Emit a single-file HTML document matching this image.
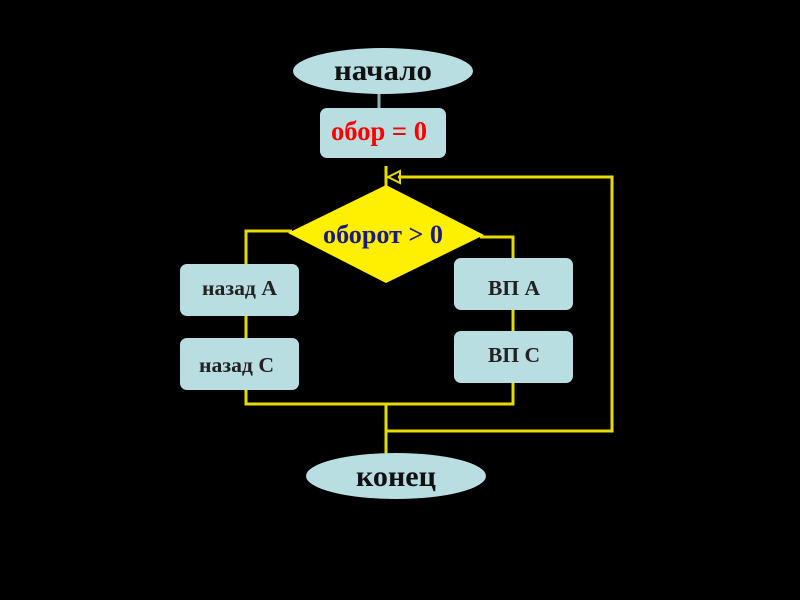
<!DOCTYPE html>
<html><head><meta charset="utf-8"><style>
html,body{margin:0;padding:0;background:#000;}
svg{display:block;}
text{font-family:"Liberation Serif","Times New Roman",serif;font-weight:bold;}
</style></head><body>
<svg width="800" height="600" viewBox="0 0 800 600" xmlns="http://www.w3.org/2000/svg">
<rect width="800" height="600" fill="#000"/>
<line x1="379" y1="92" x2="379" y2="110" stroke="#8fb3b5" stroke-width="3"/>
<g stroke="#e6dc00" stroke-width="3" fill="none">
<line x1="386" y1="166" x2="386" y2="190"/>
<polyline points="398,177 612,177 612,431 386,431"/>
<polyline points="292,231 246,231 246,266"/>
<line x1="246" y1="314" x2="246" y2="340"/>
<polyline points="480,237 513,237 513,260"/>
<line x1="513" y1="308" x2="513" y2="333"/>
<polyline points="246,388 246,404 513,404 513,381"/>
<line x1="386" y1="404" x2="386" y2="456"/>
</g>
<polygon points="388,177 400,171 400,183" fill="none" stroke="#e6dc00" stroke-width="2"/>
<ellipse cx="383" cy="71" rx="90" ry="23" fill="#b9dee2"/>
<text x="334" y="80" font-size="30" textLength="98" lengthAdjust="spacingAndGlyphs" fill="#111">начало</text>
<rect x="320" y="108" width="126" height="50" rx="7" fill="#b9dee2"/>
<text x="331" y="140" font-size="27" textLength="96" lengthAdjust="spacingAndGlyphs" fill="#f00">обор = 0</text>
<polygon points="386,185 484,235 386,283 288,233" fill="#ffef00"/>
<text x="323" y="243" font-size="26" textLength="120" lengthAdjust="spacingAndGlyphs" fill="#1a1a80">оборот &gt; 0</text>
<rect x="180" y="264" width="119" height="52" rx="7" fill="#b9dee2"/>
<text x="202" y="295" font-size="21" textLength="75" lengthAdjust="spacingAndGlyphs" fill="#222">назад А</text>
<rect x="180" y="338" width="119" height="52" rx="7" fill="#b9dee2"/>
<text x="199" y="372" font-size="21" textLength="75" lengthAdjust="spacingAndGlyphs" fill="#222">назад С</text>
<rect x="454" y="258" width="119" height="52" rx="7" fill="#b9dee2"/>
<text x="488" y="295" font-size="21" textLength="52" lengthAdjust="spacingAndGlyphs" fill="#222">ВП А</text>
<rect x="454" y="331" width="119" height="52" rx="7" fill="#b9dee2"/>
<text x="488" y="362" font-size="21" textLength="52" lengthAdjust="spacingAndGlyphs" fill="#222">ВП С</text>
<ellipse cx="396" cy="476" rx="90" ry="23" fill="#b9dee2"/>
<text x="356" y="486" font-size="30" textLength="80" lengthAdjust="spacingAndGlyphs" fill="#111">конец</text>
</svg>
</body></html>
